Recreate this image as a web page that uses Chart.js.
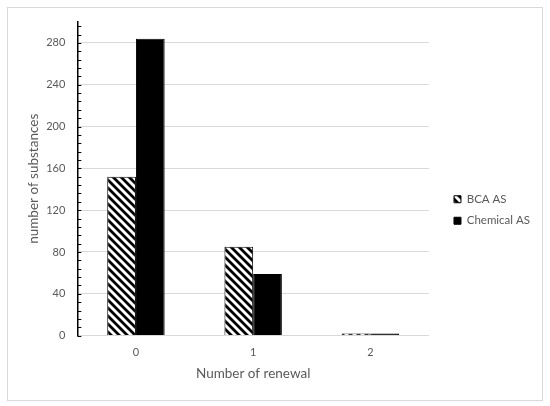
<!DOCTYPE html>
<html>
<head>
<meta charset="utf-8">
<script src="https://cdn.jsdelivr.net/npm/chart.js@4.4.1/dist/chart.umd.min.js"></script>
<style>
  html, body { margin: 0; padding: 0; background: #fff; }
  #wrap { position: relative; width: 550px; height: 406px; }
  #frame { position: absolute; left: 7px; top: 7px; width: 534px; height: 392px;
           border: 1px solid #d9d9d9; pointer-events: none; }
</style>
</head>
<body>
<div id="wrap">
  <canvas id="chart" width="550" height="406"></canvas>
  <div id="frame"></div>
</div>
<script>
(function () {
  "use strict";

  // data
  var renewals = ["0", "1", "2"];
  var bcaAS = [152, 85, 1];
  var chemicalAS = [284, 59, 1];
  var yMax = 300;
  var yStep = 40;
  var minorStep = 8;

  var TEXT = "#595959";
  var GRID = "#d9d9d9";
  var CLEAR = "rgba(0,0,0,0)";
  var FONT = "Lato, 'Open Sans', sans-serif";
  var LEGEND_GAP = 15; // space between plot area and legend

  var canvas = document.getElementById("chart");
  var ctx = canvas.getContext("2d");

  // diagonal hatch ("\\\") for the BCA bars
  function makeHatch() {
    var c = document.createElement("canvas");
    c.width = 8;
    c.height = 8;
    var g = c.getContext("2d");
    g.fillStyle = "#fff";
    g.fillRect(0, 0, 8, 8);
    g.strokeStyle = "#000";
    g.lineWidth = 2.8;
    g.beginPath();
    g.moveTo(-2, -2); g.lineTo(10, 10);
    g.moveTo(-2, 6); g.lineTo(2, 10);
    g.moveTo(6, -2); g.lineTo(10, 2);
    g.stroke();
    return ctx.createPattern(c, "repeat");
  }

  // small inward tick marks on the value axis
  var minorTicks = {
    id: "minorTicks",
    afterDraw: function (chart) {
      var y = chart.scales.y;
      var c = chart.ctx;
      c.save();
      c.strokeStyle = "#000";
      c.lineWidth = 1;
      for (var v = 0; v <= yMax; v += minorStep) {
        var py = Math.round(y.getPixelForValue(v)) + 0.5;
        c.beginPath();
        c.moveTo(y.right, py);
        c.lineTo(y.right + 4, py);
        c.stroke();
      }
      c.restore();
    }
  };

  // widen the legend box on its left side so it sits away from the plot
  var legendGap = {
    id: "legendGap",
    beforeUpdate: function (chart) {
      var lg = chart.legend;
      if (!lg || lg._gapDone) return;
      lg._gapDone = true;
      var fit = lg.fit;
      lg.fit = function () {
        fit.apply(this, arguments);
        this.width += LEGEND_GAP;
      };
      var draw = lg._draw;
      lg._draw = function () {
        this.ctx.save();
        this.ctx.translate(LEGEND_GAP, 0);
        draw.apply(this, arguments);
        this.ctx.restore();
      };
    }
  };

  new Chart(ctx, {
    type: "bar",
    data: {
      labels: renewals,
      datasets: [
        {
          label: "BCA AS",
          data: bcaAS,
          backgroundColor: makeHatch(),
          borderColor: "#000",
          borderWidth: 1,
          borderSkipped: "bottom",
          minBarLength: 2
        },
        {
          label: "Chemical AS",
          data: chemicalAS,
          backgroundColor: "#000",
          borderColor: "#000",
          borderWidth: 1,
          borderSkipped: "bottom",
          minBarLength: 2
        }
      ]
    },
    options: {
      responsive: false,
      animation: false,
      layout: { padding: { top: 22, bottom: 8, left: 26, right: 10 } },
      datasets: {
        bar: { barPercentage: 1, categoryPercentage: 0.49 }
      },
      plugins: {
        tooltip: { enabled: false },
        legend: {
          position: "right",
          labels: {
            boxWidth: 7,
            boxHeight: 7,
            padding: 10,
            color: TEXT,
            font: { family: FONT, size: 11.5 }
          }
        }
      },
      scales: {
        x: {
          grid: { display: false, tickLength: 8 },
          border: { color: GRID, width: 1 },
          ticks: { color: TEXT, padding: 2, font: { family: FONT, size: 11 } },
          title: {
            display: true,
            text: "Number of renewal",
            color: TEXT,
            font: { family: FONT, size: 13.5 },
            padding: { top: 5, bottom: 16 }
          }
        },
        y: {
          min: 0,
          max: yMax,
          grid: {
            drawTicks: true,
            tickLength: 9,
            tickColor: CLEAR,
            color: function (c) {
              return c.tick && c.tick.value % yStep === 0 ? GRID : CLEAR;
            }
          },
          border: { color: "#000", width: 1.5 },
          ticks: {
            stepSize: yStep,
            padding: 3,
            color: TEXT,
            font: { family: FONT, size: 11 },
            callback: function (v) { return v % yStep === 0 ? v : null; }
          },
          title: {
            display: true,
            text: "number of substances",
            color: TEXT,
            font: { family: FONT, size: 13.5 },
            padding: { top: 0, bottom: 1 }
          }
        }
      }
    },
    plugins: [minorTicks, legendGap]
  });
})();
</script>
</body>
</html>
